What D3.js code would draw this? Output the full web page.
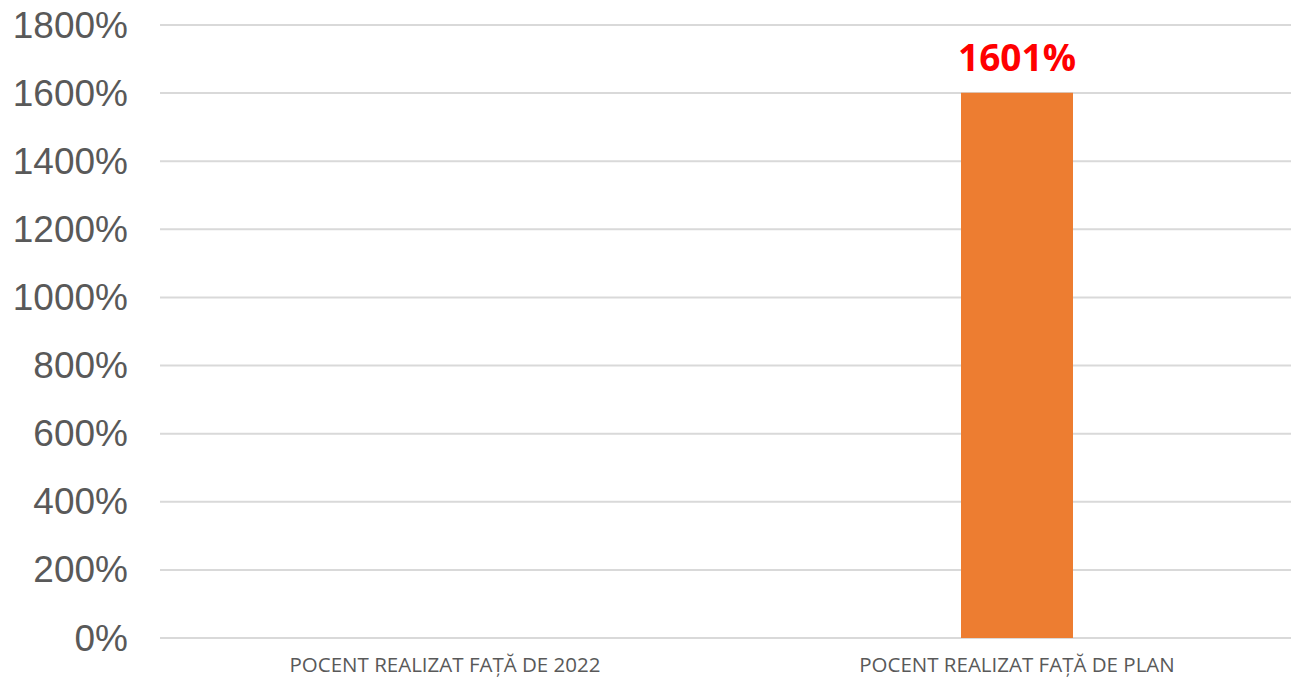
<!DOCTYPE html>
<html>
<head>
<meta charset="utf-8">
<script src="https://cdn.jsdelivr.net/npm/d3@7"></script>
<style>
	body { margin: 0; background: #fff; overflow: hidden; }
	svg { display: block; }
</style>
</head>
<body>
<svg width="1291" height="679"></svg>
<script>
// Data
var categories = ['POCENT REALIZAT FAȚĂ DE 2022', 'POCENT REALIZAT FAȚĂ DE PLAN'];
var values = [null, 1601];
var y_ticks = [0, 200, 400, 600, 800, 1000, 1200, 1400, 1600, 1800];

var plot_left = 159;
var plot_right = 1303;
var plot_top = 25;
var plot_bottom = 638;
var bar_ratio = 112 / 572;

var svg = d3.select('svg');

var x = d3.scaleBand()
	.domain(categories)
	.range([plot_left, plot_right])
	.paddingInner(1 - bar_ratio)
	.paddingOuter((1 - bar_ratio) / 2);

var y = d3.scaleLinear()
	.domain([0, 1800])
	.range([plot_bottom, plot_top]);

// Gridlines
svg.append('g')
	.selectAll('line')
	.data(y_ticks)
	.enter().append('line')
	.attr('x1', plot_left + 1)
	.attr('x2', plot_right)
	.attr('y1', d => y(d))
	.attr('y2', d => y(d))
	.attr('stroke', '#d9d9d9')
	.attr('stroke-width', 2);

// Y tick labels
svg.append('g')
	.selectAll('text')
	.data(y_ticks)
	.enter().append('text')
	.attr('x', 128)
	.attr('y', d => y(d))
	.attr('text-anchor', 'end')
	.attr('dominant-baseline', 'central')
	.attr('font-family', 'Liberation Sans, Arial, sans-serif')
	.attr('font-size', 37)
	.attr('fill', '#595959')
	.text(d => d + '%');

// Bars
var data = categories.map((c, i) => { return { name: c, value: values[i] }; });
svg.append('g')
	.selectAll('rect')
	.data(data.filter(d => d.value !== null))
	.enter().append('rect')
	.attr('x', d => x(d.name))
	.attr('width', x.bandwidth())
	.attr('y', d => y(d.value))
	.attr('height', d => y(0) - y(d.value))
	.attr('fill', '#ed7d31');

// Value labels
svg.append('g')
	.selectAll('text')
	.data(data.filter(d => d.value !== null))
	.enter().append('text')
	.attr('x', d => x(d.name) + x.bandwidth() / 2)
	.attr('y', d => y(d.value) - 22)
	.attr('text-anchor', 'middle')
	.attr('font-family', 'Open Sans, sans-serif')
	.attr('font-weight', 'bold')
	.attr('font-size', 37)
	.attr('fill', '#ff0000')
	.text(d => d.value + '%');

// Category labels
svg.append('g')
	.selectAll('text')
	.data(categories)
	.enter().append('text')
	.attr('x', d => x(d) + x.bandwidth() / 2)
	.attr('y', 672)
	.attr('text-anchor', 'middle')
	.attr('font-family', 'Open Sans, sans-serif')
	.attr('font-size', 20.5)
	.attr('fill', '#595959')
	.text(d => d);
</script>
</body>
</html>
